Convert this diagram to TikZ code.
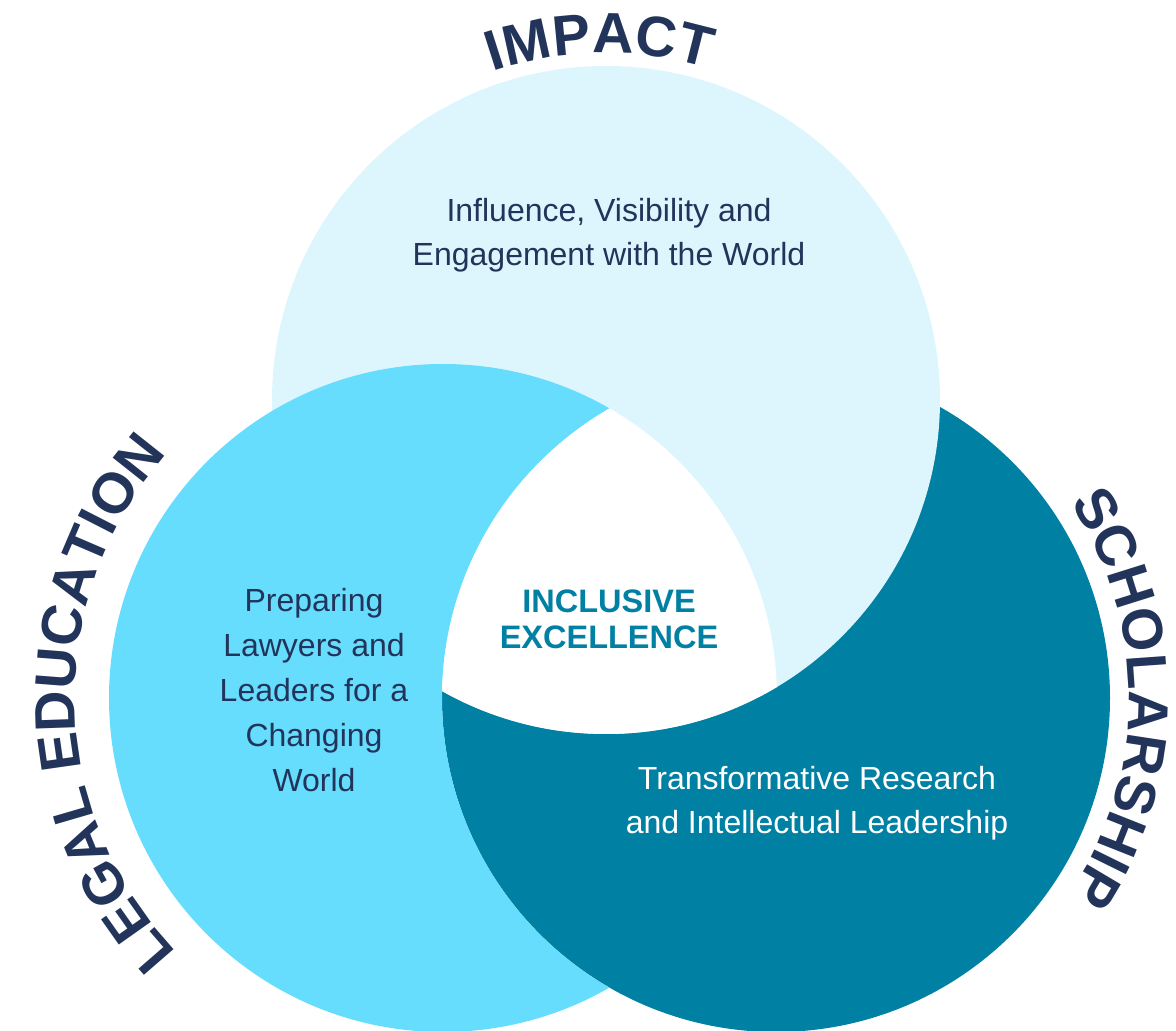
\documentclass[tikz,border=0pt]{standalone}
\usepackage{fontspec}
\setmainfont{Liberation Sans}
\usetikzlibrary{decorations.text}

\definecolor{impactblue}{HTML}{DDF6FE}
\definecolor{edublue}{HTML}{67DDFE}
\definecolor{scholteal}{HTML}{0080A3}
\definecolor{navy}{HTML}{22345A}

\newcommand{\ringfont}{\bfseries\fontsize{57}{57}\selectfont}
\newcommand{\bodyfont}{\fontsize{32}{44}\selectfont}

\begin{document}
\begin{tikzpicture}[x=1pt,y=1pt,
        body/.style={align=center, font=\bodyfont, text=navy, inner sep=0pt},
        ring/.style={decorate, decoration={text along path, text align=center, text color=navy}}]

        % Define the radius of the circles
        \def\r{334}

        \useasboundingbox (0,0) rectangle (1176,1031);

        % Centres of the three circles
        \coordinate (impact) at (606,631);
        \coordinate (edu) at (443,333);
        \coordinate (schol) at (776,333);

        % Draw the circles: impact over scholarship
        \fill[scholteal] (schol) circle[radius=\r];
        \fill[impactblue] (impact) circle[radius=\r];

        % Legal education over impact, but under scholarship
        \begin{scope}
            \clip (edu) circle[radius=\r];
            \fill[edublue, even odd rule] (0,0) rectangle (1176,1031) (schol) circle[radius=\r];
        \end{scope}

        % Middle part is left white
        \begin{scope}
            \clip (impact) circle[radius=\r];
            \clip (edu) circle[radius=\r];
            \fill[white] (schol) circle[radius=\r];
        \end{scope}

        % Titles along the circles
        \path[ring, decoration={text={|\ringfont|IMPACT}}, shift={(impact)}]
            (131:347) arc[start angle=131, end angle=51, radius=347];
        \path[ring, decoration={text={|\ringfont|LEGAL EDUCATION}}, shift={(edu)}]
            (231:368) arc[start angle=231, end angle=131, radius=368];
        \path[ring, decoration={text={|\ringfont|SCHOLARSHIP}}, shift={(schol)}]
            (40:353) arc[start angle=40, end angle=-40, radius=353];

        % Texts in the circles
        \node[body] (impacttext) at (609,796) {Influence, Visibility and\\Engagement with the World};
        \node[body, font=\fontsize{32}{45}\selectfont] (edutext) at (314,341) {Preparing\\Lawyers and\\Leaders for a\\Changing\\World};
        \node[body, text=scholteal, font=\bfseries\fontsize{32.5}{36}\selectfont] (core) at (609,412) {INCLUSIVE\\EXCELLENCE};
        \node[body, text=white] (scholtext) at (817,228) {Transformative Research\\and Intellectual Leadership};
    \end{tikzpicture}
\end{document}
